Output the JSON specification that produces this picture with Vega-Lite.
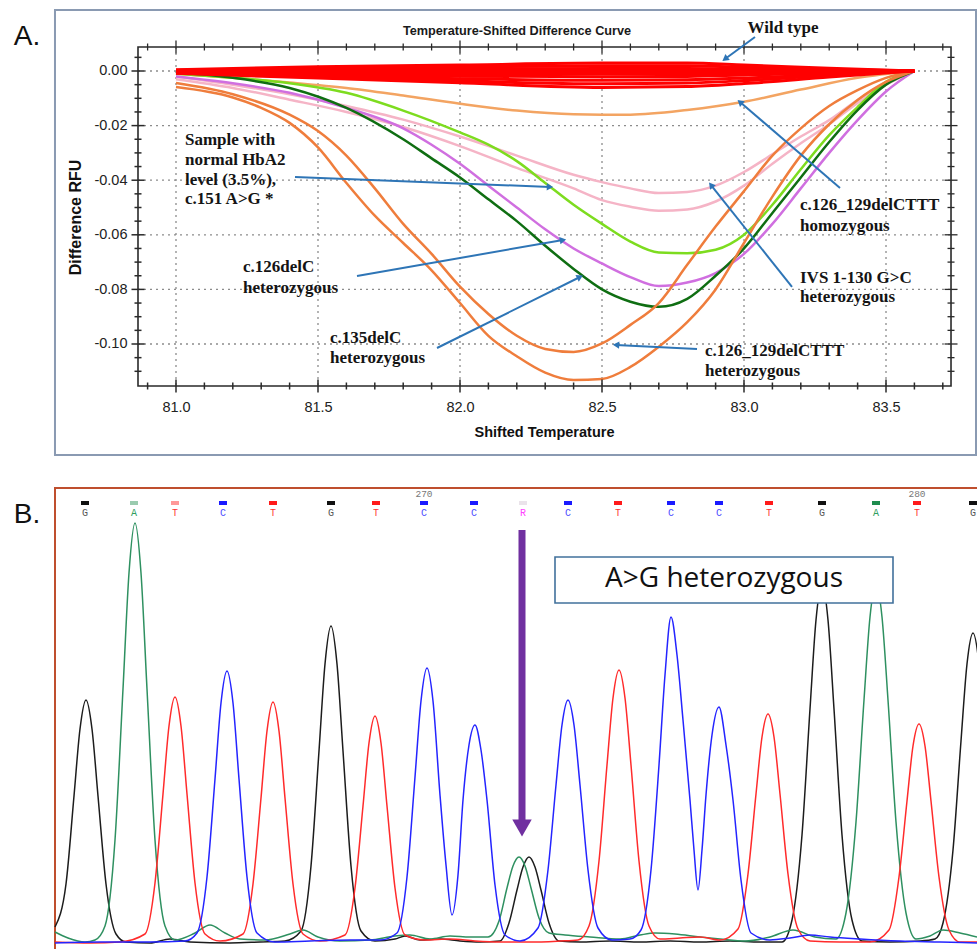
{
"$schema": "https://vega.github.io/schema/vega-lite/v6.json",
"width": 977, "height": 949, "autosize": "none", "padding": 0, "background": "white",
"config": {"view": {"stroke": null}, "font": "Liberation Sans"},
"datasets": {
"wt": [
{"s":"R1","t":81.0,"r":0.0005},{"s":"R1","t":81.5,"r":0.0016},{"s":"R1","t":82.0,"r":0.0022},{"s":"R1","t":82.5,"r":0.0029},{"s":"R1","t":82.8,"r":0.0029},{"s":"R1","t":83.0,"r":0.0022},{"s":"R1","t":83.3,"r":0.001},{"s":"R1","t":83.6,"r":0},
{"s":"R2","t":81.0,"r":0.0003},{"s":"R2","t":81.5,"r":0.001},{"s":"R2","t":82.0,"r":0.0015},{"s":"R2","t":82.5,"r":0.0019},{"s":"R2","t":82.8,"r":0.0019},{"s":"R2","t":83.0,"r":0.0014},{"s":"R2","t":83.3,"r":0.0006},{"s":"R2","t":83.6,"r":0},
{"s":"R3","t":81.0,"r":0.0001},{"s":"R3","t":81.5,"r":0.0004},{"s":"R3","t":82.0,"r":0.0007},{"s":"R3","t":82.5,"r":0.0009},{"s":"R3","t":82.8,"r":0.0009},{"s":"R3","t":83.0,"r":0.0006},{"s":"R3","t":83.3,"r":0.0003},{"s":"R3","t":83.6,"r":0},
{"s":"R4","t":81.0,"r":-0.0001},{"s":"R4","t":81.5,"r":-0.0002},{"s":"R4","t":82.0,"r":-0.0002},{"s":"R4","t":82.5,"r":-0.0002},{"s":"R4","t":82.8,"r":-0.0002},{"s":"R4","t":83.0,"r":-0.0001},{"s":"R4","t":83.3,"r":-0.0001},{"s":"R4","t":83.6,"r":0},
{"s":"R5","t":81.0,"r":-0.0003},{"s":"R5","t":81.5,"r":-0.0007},{"s":"R5","t":82.0,"r":-0.001},{"s":"R5","t":82.5,"r":-0.0011},{"s":"R5","t":82.8,"r":-0.001},{"s":"R5","t":83.0,"r":-0.0008},{"s":"R5","t":83.3,"r":-0.0004},{"s":"R5","t":83.6,"r":0},
{"s":"R6","t":81.0,"r":-0.0004},{"s":"R6","t":81.5,"r":-0.0012},{"s":"R6","t":82.0,"r":-0.0019},{"s":"R6","t":82.5,"r":-0.0021},{"s":"R6","t":82.8,"r":-0.002},{"s":"R6","t":83.0,"r":-0.0015},{"s":"R6","t":83.3,"r":-0.0007},{"s":"R6","t":83.6,"r":0},
{"s":"R7","t":81.0,"r":-0.0006},{"s":"R7","t":81.5,"r":-0.0017},{"s":"R7","t":82.0,"r":-0.0028},{"s":"R7","t":82.5,"r":-0.0034},{"s":"R7","t":82.8,"r":-0.0032},{"s":"R7","t":83.0,"r":-0.0026},{"s":"R7","t":83.3,"r":-0.0012},{"s":"R7","t":83.6,"r":0},
{"s":"R8","t":81.0,"r":-0.0007},{"s":"R8","t":81.5,"r":-0.0022},{"s":"R8","t":82.0,"r":-0.0036},{"s":"R8","t":82.5,"r":-0.0047},{"s":"R8","t":82.8,"r":-0.0044},{"s":"R8","t":83.0,"r":-0.0035},{"s":"R8","t":83.3,"r":-0.0016},{"s":"R8","t":83.6,"r":0},
{"s":"R9","t":81.0,"r":-0.0008},{"s":"R9","t":81.5,"r":-0.0026},{"s":"R9","t":82.0,"r":-0.0043},{"s":"R9","t":82.5,"r":-0.006},{"s":"R9","t":82.8,"r":-0.0057},{"s":"R9","t":83.0,"r":-0.0046},{"s":"R9","t":83.3,"r":-0.0022},{"s":"R9","t":83.6,"r":0}
],
"mut": [
{"s":"OH","t":81.0,"r":-0.001},{"s":"OH","t":81.2,"r":-0.0025},{"s":"OH","t":81.4,"r":-0.0042},{"s":"OH","t":81.6,"r":-0.0062},{"s":"OH","t":81.8,"r":-0.009},{"s":"OH","t":82.0,"r":-0.012},{"s":"OH","t":82.2,"r":-0.0145},{"s":"OH","t":82.4,"r":-0.0158},{"s":"OH","t":82.6,"r":-0.016},{"s":"OH","t":82.8,"r":-0.0143},{"s":"OH","t":83.0,"r":-0.0113},{"s":"OH","t":83.2,"r":-0.0068},{"s":"OH","t":83.4,"r":-0.0025},{"s":"OH","t":83.6,"r":0},
{"s":"P1","t":81.0,"r":-0.002},{"s":"P1","t":81.2,"r":-0.005},{"s":"P1","t":81.4,"r":-0.0085},{"s":"P1","t":81.6,"r":-0.0128},{"s":"P1","t":81.8,"r":-0.0178},{"s":"P1","t":82.0,"r":-0.024},{"s":"P1","t":82.2,"r":-0.031},{"s":"P1","t":82.4,"r":-0.038},{"s":"P1","t":82.5,"r":-0.0407},{"s":"P1","t":82.6,"r":-0.043},{"s":"P1","t":82.7,"r":-0.0447},{"s":"P1","t":82.8,"r":-0.0443},{"s":"P1","t":82.9,"r":-0.042},{"s":"P1","t":83.0,"r":-0.037},{"s":"P1","t":83.1,"r":-0.0305},{"s":"P1","t":83.2,"r":-0.024},{"s":"P1","t":83.3,"r":-0.018},{"s":"P1","t":83.4,"r":-0.0106},{"s":"P1","t":83.5,"r":-0.0045},{"s":"P1","t":83.6,"r":0},
{"s":"P2","t":81.0,"r":-0.003},{"s":"P2","t":81.2,"r":-0.0062},{"s":"P2","t":81.4,"r":-0.0105},{"s":"P2","t":81.6,"r":-0.015},{"s":"P2","t":81.8,"r":-0.0205},{"s":"P2","t":82.0,"r":-0.0275},{"s":"P2","t":82.2,"r":-0.0355},{"s":"P2","t":82.4,"r":-0.043},{"s":"P2","t":82.5,"r":-0.0473},{"s":"P2","t":82.6,"r":-0.0497},{"s":"P2","t":82.7,"r":-0.0512},{"s":"P2","t":82.8,"r":-0.0507},{"s":"P2","t":82.9,"r":-0.0478},{"s":"P2","t":83.0,"r":-0.042},{"s":"P2","t":83.1,"r":-0.034},{"s":"P2","t":83.2,"r":-0.0265},{"s":"P2","t":83.3,"r":-0.0195},{"s":"P2","t":83.4,"r":-0.0117},{"s":"P2","t":83.5,"r":-0.005},{"s":"P2","t":83.6,"r":0},
{"s":"LG","t":81.0,"r":-0.001},{"s":"LG","t":81.2,"r":-0.0025},{"s":"LG","t":81.4,"r":-0.0045},{"s":"LG","t":81.6,"r":-0.008},{"s":"LG","t":81.8,"r":-0.0145},{"s":"LG","t":82.0,"r":-0.0225},{"s":"LG","t":82.1,"r":-0.027},{"s":"LG","t":82.2,"r":-0.033},{"s":"LG","t":82.3,"r":-0.041},{"s":"LG","t":82.4,"r":-0.049},{"s":"LG","t":82.5,"r":-0.056},{"s":"LG","t":82.6,"r":-0.0625},{"s":"LG","t":82.7,"r":-0.0665},{"s":"LG","t":82.8,"r":-0.0668},{"s":"LG","t":82.9,"r":-0.0655},{"s":"LG","t":83.0,"r":-0.06},{"s":"LG","t":83.1,"r":-0.049},{"s":"LG","t":83.2,"r":-0.036},{"s":"LG","t":83.3,"r":-0.0235},{"s":"LG","t":83.4,"r":-0.0132},{"s":"LG","t":83.5,"r":-0.004},{"s":"LG","t":83.6,"r":0},
{"s":"MG","t":81.0,"r":-0.002},{"s":"MG","t":81.2,"r":-0.0045},{"s":"MG","t":81.4,"r":-0.008},{"s":"MG","t":81.6,"r":-0.0135},{"s":"MG","t":81.8,"r":-0.021},{"s":"MG","t":81.9,"r":-0.027},{"s":"MG","t":82.0,"r":-0.034},{"s":"MG","t":82.1,"r":-0.042},{"s":"MG","t":82.2,"r":-0.05},{"s":"MG","t":82.3,"r":-0.058},{"s":"MG","t":82.4,"r":-0.065},{"s":"MG","t":82.5,"r":-0.0705},{"s":"MG","t":82.6,"r":-0.0755},{"s":"MG","t":82.7,"r":-0.0788},{"s":"MG","t":82.8,"r":-0.0775},{"s":"MG","t":82.9,"r":-0.074},{"s":"MG","t":83.0,"r":-0.067},{"s":"MG","t":83.1,"r":-0.056},{"s":"MG","t":83.2,"r":-0.043},{"s":"MG","t":83.3,"r":-0.03},{"s":"MG","t":83.4,"r":-0.018},{"s":"MG","t":83.5,"r":-0.0075},{"s":"MG","t":83.6,"r":0},
{"s":"DG","t":81.0,"r":-0.0005},{"s":"DG","t":81.2,"r":-0.0025},{"s":"DG","t":81.4,"r":-0.0062},{"s":"DG","t":81.6,"r":-0.0135},{"s":"DG","t":81.8,"r":-0.025},{"s":"DG","t":81.9,"r":-0.032},{"s":"DG","t":82.0,"r":-0.039},{"s":"DG","t":82.1,"r":-0.047},{"s":"DG","t":82.2,"r":-0.055},{"s":"DG","t":82.3,"r":-0.064},{"s":"DG","t":82.4,"r":-0.0725},{"s":"DG","t":82.5,"r":-0.08},{"s":"DG","t":82.6,"r":-0.0845},{"s":"DG","t":82.7,"r":-0.0864},{"s":"DG","t":82.8,"r":-0.0835},{"s":"DG","t":82.9,"r":-0.075},{"s":"DG","t":83.0,"r":-0.065},{"s":"DG","t":83.1,"r":-0.052},{"s":"DG","t":83.2,"r":-0.039},{"s":"DG","t":83.3,"r":-0.026},{"s":"DG","t":83.4,"r":-0.0143},{"s":"DG","t":83.5,"r":-0.005},{"s":"DG","t":83.6,"r":0},
{"s":"O1","t":81.0,"r":-0.0044},{"s":"O1","t":81.2,"r":-0.0085},{"s":"O1","t":81.4,"r":-0.016},{"s":"O1","t":81.5,"r":-0.022},{"s":"O1","t":81.6,"r":-0.031},{"s":"O1","t":81.7,"r":-0.043},{"s":"O1","t":81.8,"r":-0.056},{"s":"O1","t":81.9,"r":-0.067},{"s":"O1","t":82.0,"r":-0.079},{"s":"O1","t":82.1,"r":-0.089},{"s":"O1","t":82.2,"r":-0.097},{"s":"O1","t":82.3,"r":-0.1018},{"s":"O1","t":82.4,"r":-0.1029},{"s":"O1","t":82.5,"r":-0.0998},{"s":"O1","t":82.6,"r":-0.093},{"s":"O1","t":82.7,"r":-0.085},{"s":"O1","t":82.8,"r":-0.071},{"s":"O1","t":82.9,"r":-0.057},{"s":"O1","t":83.0,"r":-0.044},{"s":"O1","t":83.1,"r":-0.031},{"s":"O1","t":83.2,"r":-0.021},{"s":"O1","t":83.3,"r":-0.0128},{"s":"O1","t":83.4,"r":-0.007},{"s":"O1","t":83.5,"r":-0.0025},{"s":"O1","t":83.6,"r":0},
{"s":"O2","t":81.0,"r":-0.0059},{"s":"O2","t":81.2,"r":-0.0097},{"s":"O2","t":81.3,"r":-0.0135},{"s":"O2","t":81.4,"r":-0.019},{"s":"O2","t":81.5,"r":-0.028},{"s":"O2","t":81.6,"r":-0.041},{"s":"O2","t":81.7,"r":-0.053},{"s":"O2","t":81.8,"r":-0.063},{"s":"O2","t":81.9,"r":-0.073},{"s":"O2","t":82.0,"r":-0.085},{"s":"O2","t":82.1,"r":-0.097},{"s":"O2","t":82.2,"r":-0.1045},{"s":"O2","t":82.3,"r":-0.1105},{"s":"O2","t":82.4,"r":-0.1132},{"s":"O2","t":82.5,"r":-0.1128},{"s":"O2","t":82.6,"r":-0.1084},{"s":"O2","t":82.7,"r":-0.101},{"s":"O2","t":82.8,"r":-0.092},{"s":"O2","t":82.9,"r":-0.08},{"s":"O2","t":83.0,"r":-0.063},{"s":"O2","t":83.1,"r":-0.046},{"s":"O2","t":83.2,"r":-0.031},{"s":"O2","t":83.3,"r":-0.0195},{"s":"O2","t":83.4,"r":-0.0106},{"s":"O2","t":83.5,"r":-0.004},{"s":"O2","t":83.6,"r":0}
],
"xgrid": [{"v":81.0},{"v":81.5},{"v":82.0},{"v":82.5},{"v":83.0},{"v":83.5}],
"ygrid": [{"v":0},{"v":-0.02},{"v":-0.04},{"v":-0.06},{"v":-0.08},{"v":-0.1}],
"xticks": [{"v":80.9,"k":"minor"},{"v":81.0,"k":"major"},{"v":81.1,"k":"minor"},{"v":81.2,"k":"minor"},{"v":81.3,"k":"minor"},{"v":81.4,"k":"minor"},{"v":81.5,"k":"major"},{"v":81.6,"k":"minor"},{"v":81.7,"k":"minor"},{"v":81.8,"k":"minor"},{"v":81.9,"k":"minor"},{"v":82.0,"k":"major"},{"v":82.1,"k":"minor"},{"v":82.2,"k":"minor"},{"v":82.3,"k":"minor"},{"v":82.4,"k":"minor"},{"v":82.5,"k":"major"},{"v":82.6,"k":"minor"},{"v":82.7,"k":"minor"},{"v":82.8,"k":"minor"},{"v":82.9,"k":"minor"},{"v":83.0,"k":"major"},{"v":83.1,"k":"minor"},{"v":83.2,"k":"minor"},{"v":83.3,"k":"minor"},{"v":83.4,"k":"minor"},{"v":83.5,"k":"major"},{"v":83.6,"k":"minor"},{"v":83.7,"k":"minor"}],
"yticks": [{"v":0.005,"k":"minor"},{"v":0,"k":"major"},{"v":-0.005,"k":"minor"},{"v":-0.01,"k":"minor"},{"v":-0.015,"k":"minor"},{"v":-0.02,"k":"major"},{"v":-0.025,"k":"minor"},{"v":-0.03,"k":"minor"},{"v":-0.035,"k":"minor"},{"v":-0.04,"k":"major"},{"v":-0.045,"k":"minor"},{"v":-0.05,"k":"minor"},{"v":-0.055,"k":"minor"},{"v":-0.06,"k":"major"},{"v":-0.065,"k":"minor"},{"v":-0.07,"k":"minor"},{"v":-0.075,"k":"minor"},{"v":-0.08,"k":"major"},{"v":-0.085,"k":"minor"},{"v":-0.09,"k":"minor"},{"v":-0.095,"k":"minor"},{"v":-0.1,"k":"major"},{"v":-0.105,"k":"minor"},{"v":-0.11,"k":"minor"}],
"arrows": [
{"id":"wt","t1":83.0387,"r1":0.01245,"t2":82.9331,"r2":0.0044},
{"id":"c151","t1":81.419,"r1":-0.03883,"t2":82.3169,"r2":-0.04249},
{"id":"d126","t1":81.6373,"r1":-0.07509,"t2":82.3627,"r2":-0.0619},
{"id":"d135","t1":81.919,"r1":-0.10147,"t2":82.4225,"r2":-0.07546},
{"id":"het","t1":82.8345,"r1":-0.10183,"t2":82.5493,"r2":-0.10037},
{"id":"ivs","t1":83.169,"r1":-0.07912,"t2":82.8838,"r2":-0.04176},
{"id":"homo","t1":83.338,"r1":-0.04286,"t2":82.9859,"r2":-0.01136}
],
"notes": [
{"txt":"Wild type","t":83.0123,"r":0.01575},
{"txt":"Sample with","t":81.0317,"r":-0.02527},
{"txt":"normal HbA2","t":81.0317,"r":-0.0326},
{"txt":"level (3.5%),","t":81.0317,"r":-0.03993},
{"txt":"c.151 A>G *","t":81.0317,"r":-0.04689},
{"txt":"c.126delC","t":81.2359,"r":-0.07179},
{"txt":"heterozygous","t":81.2359,"r":-0.07949},
{"txt":"c.135delC","t":81.5423,"r":-0.0978},
{"txt":"heterozygous","t":81.5423,"r":-0.10513},
{"txt":"c.126_129delCTTT","t":82.8627,"r":-0.10256},
{"txt":"heterozygous","t":82.8627,"r":-0.10989},
{"txt":"IVS 1-130 G>C","t":83.1972,"r":-0.07582},
{"txt":"heterozygous","t":83.1972,"r":-0.08278},
{"txt":"c.126_129delCTTT","t":83.1972,"r":-0.04908},
{"txt":"homozygous","t":83.1972,"r":-0.05678}
],
"trace": [
{"ch":"G","scan":55,"sig":18},{"ch":"G","scan":66,"sig":61},{"ch":"G","scan":74,"sig":149},{"ch":"G","scan":80,"sig":216},{"ch":"G","scan":86,"sig":245},{"ch":"G","scan":92,"sig":216},{"ch":"G","scan":98,"sig":149},{"ch":"G","scan":106,"sig":61},{"ch":"G","scan":116,"sig":11},{"ch":"G","scan":126,"sig":3},{"ch":"G","scan":150,"sig":2},{"ch":"G","scan":170,"sig":6},{"ch":"G","scan":190,"sig":3},{"ch":"G","scan":230,"sig":2},{"ch":"G","scan":260,"sig":3},{"ch":"G","scan":285,"sig":4},{"ch":"G","scan":301,"sig":14},{"ch":"G","scan":311,"sig":79},{"ch":"G","scan":319,"sig":194},{"ch":"G","scan":325,"sig":281},{"ch":"G","scan":331,"sig":319},{"ch":"G","scan":337,"sig":281},{"ch":"G","scan":343,"sig":194},{"ch":"G","scan":351,"sig":79},{"ch":"G","scan":361,"sig":14},{"ch":"G","scan":375,"sig":4},{"ch":"G","scan":395,"sig":6},{"ch":"G","scan":405,"sig":9},{"ch":"G","scan":420,"sig":5},{"ch":"G","scan":440,"sig":6},{"ch":"G","scan":460,"sig":4},{"ch":"G","scan":480,"sig":3},{"ch":"G","scan":500,"sig":4},{"ch":"G","scan":509,"sig":22},{"ch":"G","scan":517,"sig":55},{"ch":"G","scan":523,"sig":78},{"ch":"G","scan":529,"sig":88},{"ch":"G","scan":535,"sig":78},{"ch":"G","scan":541,"sig":55},{"ch":"G","scan":549,"sig":22},{"ch":"G","scan":559,"sig":4},{"ch":"G","scan":580,"sig":3},{"ch":"G","scan":610,"sig":4},{"ch":"G","scan":640,"sig":3},{"ch":"G","scan":670,"sig":4},{"ch":"G","scan":700,"sig":3},{"ch":"G","scan":730,"sig":4},{"ch":"G","scan":760,"sig":3},{"ch":"G","scan":782,"sig":3},{"ch":"G","scan":792,"sig":25},{"ch":"G","scan":802,"sig":110},{"ch":"G","scan":810,"sig":236},{"ch":"G","scan":816,"sig":325},{"ch":"G","scan":822,"sig":361},{"ch":"G","scan":828,"sig":325},{"ch":"G","scan":834,"sig":236},{"ch":"G","scan":842,"sig":110},{"ch":"G","scan":852,"sig":25},{"ch":"G","scan":862,"sig":4},{"ch":"G","scan":890,"sig":3},{"ch":"G","scan":920,"sig":4},{"ch":"G","scan":935,"sig":6},{"ch":"G","scan":943,"sig":22},{"ch":"G","scan":953,"sig":95},{"ch":"G","scan":961,"sig":204},{"ch":"G","scan":967,"sig":281},{"ch":"G","scan":973,"sig":312},{"ch":"G","scan":979,"sig":281},{"ch":"G","scan":985,"sig":204},
{"ch":"A","scan":55,"sig":13},{"ch":"A","scan":68,"sig":7},{"ch":"A","scan":85,"sig":3},{"ch":"A","scan":95,"sig":5},{"ch":"A","scan":105,"sig":19},{"ch":"A","scan":115,"sig":105},{"ch":"A","scan":123,"sig":256},{"ch":"A","scan":129,"sig":372},{"ch":"A","scan":135,"sig":422},{"ch":"A","scan":141,"sig":372},{"ch":"A","scan":147,"sig":256},{"ch":"A","scan":155,"sig":105},{"ch":"A","scan":165,"sig":19},{"ch":"A","scan":175,"sig":5},{"ch":"A","scan":195,"sig":12},{"ch":"A","scan":210,"sig":20},{"ch":"A","scan":225,"sig":12},{"ch":"A","scan":240,"sig":6},{"ch":"A","scan":265,"sig":5},{"ch":"A","scan":290,"sig":11},{"ch":"A","scan":303,"sig":15},{"ch":"A","scan":318,"sig":8},{"ch":"A","scan":340,"sig":4},{"ch":"A","scan":370,"sig":5},{"ch":"A","scan":395,"sig":9},{"ch":"A","scan":410,"sig":10},{"ch":"A","scan":430,"sig":6},{"ch":"A","scan":450,"sig":9},{"ch":"A","scan":470,"sig":8},{"ch":"A","scan":488,"sig":8},{"ch":"A","scan":499,"sig":24},{"ch":"A","scan":507,"sig":57},{"ch":"A","scan":513,"sig":79},{"ch":"A","scan":519,"sig":88},{"ch":"A","scan":525,"sig":79},{"ch":"A","scan":531,"sig":57},{"ch":"A","scan":539,"sig":27},{"ch":"A","scan":549,"sig":12},{"ch":"A","scan":565,"sig":10},{"ch":"A","scan":590,"sig":8},{"ch":"A","scan":620,"sig":6},{"ch":"A","scan":640,"sig":10},{"ch":"A","scan":655,"sig":12},{"ch":"A","scan":675,"sig":11},{"ch":"A","scan":700,"sig":8},{"ch":"A","scan":720,"sig":6},{"ch":"A","scan":745,"sig":4},{"ch":"A","scan":770,"sig":8},{"ch":"A","scan":793,"sig":15},{"ch":"A","scan":815,"sig":8},{"ch":"A","scan":836,"sig":6},{"ch":"A","scan":846,"sig":32},{"ch":"A","scan":856,"sig":123},{"ch":"A","scan":864,"sig":245},{"ch":"A","scan":870,"sig":328},{"ch":"A","scan":876,"sig":362},{"ch":"A","scan":882,"sig":328},{"ch":"A","scan":888,"sig":245},{"ch":"A","scan":896,"sig":123},{"ch":"A","scan":906,"sig":32},{"ch":"A","scan":916,"sig":6},{"ch":"A","scan":930,"sig":9},{"ch":"A","scan":943,"sig":15},{"ch":"A","scan":960,"sig":12},{"ch":"A","scan":977,"sig":8},
{"ch":"T","scan":55,"sig":3},{"ch":"T","scan":90,"sig":2},{"ch":"T","scan":120,"sig":3},{"ch":"T","scan":145,"sig":11},{"ch":"T","scan":155,"sig":62},{"ch":"T","scan":163,"sig":151},{"ch":"T","scan":169,"sig":219},{"ch":"T","scan":175,"sig":248},{"ch":"T","scan":181,"sig":219},{"ch":"T","scan":187,"sig":151},{"ch":"T","scan":195,"sig":62},{"ch":"T","scan":205,"sig":11},{"ch":"T","scan":220,"sig":4},{"ch":"T","scan":243,"sig":11},{"ch":"T","scan":253,"sig":61},{"ch":"T","scan":261,"sig":147},{"ch":"T","scan":267,"sig":214},{"ch":"T","scan":273,"sig":243},{"ch":"T","scan":279,"sig":214},{"ch":"T","scan":285,"sig":147},{"ch":"T","scan":293,"sig":61},{"ch":"T","scan":303,"sig":11},{"ch":"T","scan":320,"sig":4},{"ch":"T","scan":345,"sig":10},{"ch":"T","scan":355,"sig":57},{"ch":"T","scan":363,"sig":139},{"ch":"T","scan":369,"sig":202},{"ch":"T","scan":375,"sig":229},{"ch":"T","scan":381,"sig":202},{"ch":"T","scan":387,"sig":139},{"ch":"T","scan":395,"sig":57},{"ch":"T","scan":405,"sig":10},{"ch":"T","scan":425,"sig":5},{"ch":"T","scan":450,"sig":6},{"ch":"T","scan":475,"sig":4},{"ch":"T","scan":500,"sig":3},{"ch":"T","scan":530,"sig":3},{"ch":"T","scan":560,"sig":4},{"ch":"T","scan":578,"sig":5},{"ch":"T","scan":589,"sig":19},{"ch":"T","scan":599,"sig":84},{"ch":"T","scan":607,"sig":180},{"ch":"T","scan":613,"sig":247},{"ch":"T","scan":619,"sig":275},{"ch":"T","scan":625,"sig":247},{"ch":"T","scan":631,"sig":180},{"ch":"T","scan":639,"sig":84},{"ch":"T","scan":649,"sig":19},{"ch":"T","scan":660,"sig":6},{"ch":"T","scan":680,"sig":7},{"ch":"T","scan":700,"sig":8},{"ch":"T","scan":720,"sig":5},{"ch":"T","scan":738,"sig":16},{"ch":"T","scan":748,"sig":71},{"ch":"T","scan":756,"sig":151},{"ch":"T","scan":762,"sig":208},{"ch":"T","scan":768,"sig":231},{"ch":"T","scan":774,"sig":208},{"ch":"T","scan":780,"sig":151},{"ch":"T","scan":788,"sig":71},{"ch":"T","scan":798,"sig":16},{"ch":"T","scan":810,"sig":4},{"ch":"T","scan":840,"sig":3},{"ch":"T","scan":870,"sig":3},{"ch":"T","scan":889,"sig":15},{"ch":"T","scan":899,"sig":68},{"ch":"T","scan":907,"sig":144},{"ch":"T","scan":913,"sig":199},{"ch":"T","scan":919,"sig":221},{"ch":"T","scan":925,"sig":199},{"ch":"T","scan":931,"sig":144},{"ch":"T","scan":939,"sig":68},{"ch":"T","scan":949,"sig":15},{"ch":"T","scan":960,"sig":3},{"ch":"T","scan":977,"sig":3},
{"ch":"C","scan":55,"sig":2},{"ch":"C","scan":100,"sig":3},{"ch":"C","scan":150,"sig":3},{"ch":"C","scan":185,"sig":4},{"ch":"C","scan":197,"sig":12},{"ch":"C","scan":207,"sig":68},{"ch":"C","scan":215,"sig":166},{"ch":"C","scan":221,"sig":242},{"ch":"C","scan":227,"sig":274},{"ch":"C","scan":233,"sig":242},{"ch":"C","scan":239,"sig":166},{"ch":"C","scan":247,"sig":68},{"ch":"C","scan":257,"sig":12},{"ch":"C","scan":275,"sig":3},{"ch":"C","scan":310,"sig":4},{"ch":"C","scan":350,"sig":5},{"ch":"C","scan":380,"sig":5},{"ch":"C","scan":397,"sig":12},{"ch":"C","scan":407,"sig":68},{"ch":"C","scan":415,"sig":168},{"ch":"C","scan":421,"sig":244},{"ch":"C","scan":427,"sig":277},{"ch":"C","scan":433,"sig":244},{"ch":"C","scan":440,"sig":150},{"ch":"C","scan":446,"sig":80},{"ch":"C","scan":452,"sig":30},{"ch":"C","scan":458,"sig":70},{"ch":"C","scan":463,"sig":145},{"ch":"C","scan":469,"sig":200},{"ch":"C","scan":475,"sig":220},{"ch":"C","scan":481,"sig":195},{"ch":"C","scan":487,"sig":145},{"ch":"C","scan":495,"sig":60},{"ch":"C","scan":505,"sig":10},{"ch":"C","scan":520,"sig":4},{"ch":"C","scan":538,"sig":17},{"ch":"C","scan":548,"sig":75},{"ch":"C","scan":556,"sig":160},{"ch":"C","scan":562,"sig":220},{"ch":"C","scan":568,"sig":245},{"ch":"C","scan":574,"sig":220},{"ch":"C","scan":580,"sig":160},{"ch":"C","scan":588,"sig":75},{"ch":"C","scan":598,"sig":17},{"ch":"C","scan":612,"sig":5},{"ch":"C","scan":630,"sig":6},{"ch":"C","scan":641,"sig":15},{"ch":"C","scan":651,"sig":75},{"ch":"C","scan":659,"sig":180},{"ch":"C","scan":665,"sig":270},{"ch":"C","scan":671,"sig":328},{"ch":"C","scan":677,"sig":290},{"ch":"C","scan":683,"sig":225},{"ch":"C","scan":690,"sig":145},{"ch":"C","scan":694,"sig":95},{"ch":"C","scan":698,"sig":55},{"ch":"C","scan":702,"sig":95},{"ch":"C","scan":706,"sig":150},{"ch":"C","scan":712,"sig":210},{"ch":"C","scan":719,"sig":238},{"ch":"C","scan":726,"sig":200},{"ch":"C","scan":733,"sig":145},{"ch":"C","scan":741,"sig":65},{"ch":"C","scan":751,"sig":12},{"ch":"C","scan":770,"sig":5},{"ch":"C","scan":790,"sig":7},{"ch":"C","scan":810,"sig":10},{"ch":"C","scan":830,"sig":8},{"ch":"C","scan":860,"sig":6},{"ch":"C","scan":900,"sig":4},{"ch":"C","scan":940,"sig":3},{"ch":"C","scan":977,"sig":2}
],
"calls": [
{"scan":85,"call":"G","qv":40},{"scan":134,"call":"A","qv":12},{"scan":175,"call":"T","qv":12},{"scan":223,"call":"C","qv":40},{"scan":273,"call":"T","qv":40},{"scan":331,"call":"G","qv":40},{"scan":376,"call":"T","qv":40},{"scan":424,"call":"C","qv":40},{"scan":474,"call":"C","qv":40},{"scan":523,"call":"R","qv":12},{"scan":568,"call":"C","qv":40},{"scan":618,"call":"T","qv":40},{"scan":671,"call":"C","qv":40},{"scan":719,"call":"C","qv":40},{"scan":769,"call":"T","qv":40},{"scan":822,"call":"G","qv":40},{"scan":876,"call":"A","qv":40},{"scan":917,"call":"T","qv":40},{"scan":973,"call":"G","qv":40}
],
"pos": [{"scan":424,"lab":"270"},{"scan":917,"lab":"280"}]
},
"layer": [
{
"layer": [
{"data": {"values": [{}]},
 "mark": {"type": "rect", "fill": null, "stroke": "#8a9ab2", "strokeWidth": 2},
 "encoding": {
  "x": {"datum": 80.5739, "type": "quantitative", "scale": {"domain": [80.3803, 83.8204], "nice": false, "zero": false},
   "axis": {"orient": "bottom", "offset": -563, "values": [81, 81.5, 82, 82.5, 83, 83.5], "format": ".1f", "domain": false, "ticks": false, "tickSize": 0, "grid": false,
    "labelFont": "Liberation Sans", "labelFontSize": 14.5, "labelColor": "#222", "labelPadding": 14, "labelFlush": false, "labelOverlap": false,
    "title": "Shifted Temperature", "titleFont": "Liberation Sans", "titleFontSize": 14.5, "titleFontWeight": "bold", "titleColor": "#111",
    "titleX": 544, "titleY": 46, "titleAlign": "center", "titleBaseline": "middle", "titleAnchor": null}},
  "x2": {"datum": 83.8169},
  "y": {"datum": 0.022344, "type": "quantitative", "scale": {"domain": [-0.321612, 0.026007], "nice": false, "zero": false},
   "axis": {"orient": "left", "offset": -138, "values": [0, -0.02, -0.04, -0.06, -0.08, -0.1], "labelExpr": "datum.value < 0 ? '-' + format(-datum.value, '.2f') : format(datum.value, '.2f')", "domain": false, "ticks": false, "tickSize": 0, "grid": false,
    "labelFont": "Liberation Sans", "labelFontSize": 14.5, "labelColor": "#222", "labelPadding": 11, "labelFlush": false, "labelOverlap": false,
    "title": "Difference RFU", "titleFont": "Liberation Sans", "titleFontSize": 16, "titleFontWeight": "bold", "titleColor": "#111",
    "titleX": -63, "titleY": 217, "titleAngle": -90, "titleAlign": "center", "titleBaseline": "middle", "titleAnchor": null}},
  "y2": {"datum": -0.140659}}},
{"data": {"name": "xgrid"},
 "mark": {"type": "rule", "stroke": "#8c8c8c", "strokeWidth": 1.3, "strokeDash": [2, 4]},
 "encoding": {
  "x": {"field": "v", "type": "quantitative", "scale": {"domain": [80.3803, 83.8204], "nice": false, "zero": false}},
  "y": {"datum": 0.008791, "type": "quantitative", "scale": {"domain": [-0.321612, 0.026007], "nice": false, "zero": false}},
  "y2": {"datum": -0.115385}}},
{"data": {"name": "ygrid"},
 "mark": {"type": "rule", "stroke": "#8c8c8c", "strokeWidth": 1.3, "strokeDash": [2, 4]},
 "encoding": {
  "y": {"field": "v", "type": "quantitative", "scale": {"domain": [-0.321612, 0.026007], "nice": false, "zero": false}},
  "x": {"datum": 80.8662, "type": "quantitative", "scale": {"domain": [80.3803, 83.8204], "nice": false, "zero": false}},
  "x2": {"datum": 83.7289}}},
{"data": {"name": "mut"},
 "mark": {"type": "line", "strokeWidth": 2.5, "interpolate": "monotone"},
 "encoding": {
  "x": {"field": "t", "type": "quantitative", "scale": {"domain": [80.3803, 83.8204], "nice": false, "zero": false}},
  "y": {"field": "r", "type": "quantitative", "scale": {"domain": [-0.321612, 0.026007], "nice": false, "zero": false}},
  "color": {"field": "s", "type": "nominal", "legend": null,
   "scale": {"domain": ["OH","P1","P2","LG","MG","DG","O1","O2"], "range": ["#f3a462","#f5b4c6","#f5b4c6","#7ddc1f","#d06fe0","#0f6e12","#ef7d3c","#ef7d3c"]}}}},
{"data": {"name": "wt"},
 "mark": {"type": "line", "strokeWidth": 3, "interpolate": "monotone", "color": "#ff0000"},
 "encoding": {
  "x": {"field": "t", "type": "quantitative", "scale": {"domain": [80.3803, 83.8204], "nice": false, "zero": false}},
  "y": {"field": "r", "type": "quantitative", "scale": {"domain": [-0.321612, 0.026007], "nice": false, "zero": false}},
  "detail": {"field": "s", "type": "nominal"}}},
{"data": {"values": [{}]},
 "mark": {"type": "rect", "fill": null, "stroke": "#2a2a2a", "strokeWidth": 1.6},
 "encoding": {
  "x": {"datum": 80.8662, "type": "quantitative", "scale": {"domain": [80.3803, 83.8204], "nice": false, "zero": false}},
  "x2": {"datum": 83.7289},
  "y": {"datum": 0.008791, "type": "quantitative", "scale": {"domain": [-0.321612, 0.026007], "nice": false, "zero": false}},
  "y2": {"datum": -0.115385}}},
{"data": {"name": "xticks"},
 "mark": {"type": "tick", "orient": "vertical", "color": "#2a2a2a", "thickness": 1.5, "opacity": 1},
 "encoding": {
  "x": {"field": "v", "type": "quantitative", "scale": {"domain": [80.3803, 83.8204], "nice": false, "zero": false}},
  "y": {"datum": -0.115385, "type": "quantitative", "scale": {"domain": [-0.321612, 0.026007], "nice": false, "zero": false}},
  "size": {"field": "k", "type": "ordinal", "legend": null, "scale": {"type": "ordinal", "domain": ["major","minor"], "range": [13, 7]}}}},
{"data": {"name": "xticks"},
 "mark": {"type": "tick", "orient": "vertical", "color": "#2a2a2a", "thickness": 1.3, "opacity": 1},
 "encoding": {
  "x": {"field": "v", "type": "quantitative", "scale": {"domain": [80.3803, 83.8204], "nice": false, "zero": false}},
  "y": {"datum": 0.008791, "type": "quantitative", "scale": {"domain": [-0.321612, 0.026007], "nice": false, "zero": false}},
  "size": {"field": "k", "type": "ordinal", "legend": null, "scale": {"type": "ordinal", "domain": ["major","minor"], "range": [13, 7]}}}},
{"data": {"name": "yticks"},
 "mark": {"type": "tick", "orient": "horizontal", "color": "#2a2a2a", "thickness": 1.5, "opacity": 1},
 "encoding": {
  "y": {"field": "v", "type": "quantitative", "scale": {"domain": [-0.321612, 0.026007], "nice": false, "zero": false}},
  "x": {"datum": 80.8662, "type": "quantitative", "scale": {"domain": [80.3803, 83.8204], "nice": false, "zero": false}},
  "size": {"field": "k", "type": "ordinal", "legend": null, "scale": {"type": "ordinal", "domain": ["major","minor"], "range": [13, 7]}}}},
{"data": {"name": "yticks"},
 "mark": {"type": "tick", "orient": "horizontal", "color": "#2a2a2a", "thickness": 1.3, "opacity": 1},
 "encoding": {
  "y": {"field": "v", "type": "quantitative", "scale": {"domain": [-0.321612, 0.026007], "nice": false, "zero": false}},
  "x": {"datum": 83.7289, "type": "quantitative", "scale": {"domain": [80.3803, 83.8204], "nice": false, "zero": false}},
  "size": {"field": "k", "type": "ordinal", "legend": null, "scale": {"type": "ordinal", "domain": ["major","minor"], "range": [13, 7]}}}},
{"data": {"name": "arrows"},
 "mark": {"type": "rule", "stroke": "#2e75b6", "strokeWidth": 2},
 "encoding": {
  "x": {"field": "t1", "type": "quantitative", "scale": {"domain": [80.3803, 83.8204], "nice": false, "zero": false}},
  "y": {"field": "r1", "type": "quantitative", "scale": {"domain": [-0.321612, 0.026007], "nice": false, "zero": false}},
  "x2": {"field": "t2"}, "y2": {"field": "r2"}}},
{"data": {"name": "arrows"},
 "mark": {"type": "point", "shape": "triangle-up", "filled": true, "size": 55, "color": "#2e75b6", "opacity": 1},
 "encoding": {
  "x": {"field": "t2", "type": "quantitative", "scale": {"domain": [80.3803, 83.8204], "nice": false, "zero": false}},
  "y": {"field": "r2", "type": "quantitative", "scale": {"domain": [-0.321612, 0.026007], "nice": false, "zero": false}},
  "angle": {"field": "id", "type": "nominal", "legend": null, "scale": {"type": "ordinal", "domain": ["wt","c151","d126","d135","het","ivs","homo"], "range": [233.7, 92.2, 80.1, 63.6, 272.8, 321.5, 310.7]}}}},
{"data": {"name": "notes"},
 "mark": {"type": "text", "font": "Liberation Serif", "fontWeight": "bold", "fontSize": 17, "align": "left", "baseline": "middle", "color": "#141414"},
 "encoding": {
  "x": {"field": "t", "type": "quantitative", "scale": {"domain": [80.3803, 83.8204], "nice": false, "zero": false}},
  "y": {"field": "r", "type": "quantitative", "scale": {"domain": [-0.321612, 0.026007], "nice": false, "zero": false}},
  "text": {"field": "txt"}}},
{"data": {"values": [{}]},
 "mark": {"type": "text", "text": "Temperature-Shifted Difference Curve", "font": "Liberation Sans", "fontWeight": "bold", "fontSize": 12.7, "align": "center", "baseline": "middle", "color": "#1a1a1a"},
 "encoding": {
  "x": {"datum": 82.2007, "type": "quantitative", "scale": {"domain": [80.3803, 83.8204], "nice": false, "zero": false}},
  "y": {"datum": 0.01465, "type": "quantitative", "scale": {"domain": [-0.321612, 0.026007], "nice": false, "zero": false}}}},
{"data": {"values": [{}]},
 "mark": {"type": "text", "text": "A.", "font": "Liberation Sans", "fontSize": 28, "align": "center", "baseline": "middle", "color": "#111"},
 "encoding": {
  "x": {"datum": 80.4754, "type": "quantitative", "scale": {"domain": [80.3803, 83.8204], "nice": false, "zero": false}},
  "y": {"datum": 0.01245, "type": "quantitative", "scale": {"domain": [-0.321612, 0.026007], "nice": false, "zero": false}}}}
]
},
{
"resolve": {"scale": {"color": "independent", "opacity": "independent"}},
"layer": [
{"data": {"values": [{}]},
 "mark": {"type": "rect", "fill": null, "stroke": "#bf4f2e", "strokeWidth": 2, "clip": true},
 "encoding": {
  "x": {"datum": 55, "type": "quantitative", "scale": {"domain": [0, 977], "nice": false, "zero": false}, "axis": null},
  "x2": {"datum": 1000},
  "y": {"datum": 457, "type": "quantitative", "scale": {"domain": [-4, 945], "nice": false, "zero": false}, "axis": null},
  "y2": {"datum": -40}}},
{"data": {"name": "trace"},
 "mark": {"type": "line", "strokeWidth": 1.5, "interpolate": "monotone", "clip": true},
 "encoding": {
  "x": {"field": "scan", "type": "quantitative", "scale": {"domain": [0, 977], "nice": false, "zero": false}, "axis": null},
  "y": {"field": "sig", "type": "quantitative", "scale": {"domain": [-4, 945], "nice": false, "zero": false}, "axis": null},
  "color": {"field": "ch", "type": "nominal", "legend": null, "scale": {"domain": ["G","A","T","C"], "range": ["#1c1c1c","#2e9060","#ff2b2b","#2424ff"]}}}},
{"data": {"name": "calls"},
 "mark": {"type": "point", "shape": "M-1,-0.5H1V0.5H-1Z", "filled": true, "size": 64},
 "encoding": {
  "x": {"field": "scan", "type": "quantitative", "scale": {"domain": [0, 977], "nice": false, "zero": false}, "axis": null},
  "y": {"datum": 442, "type": "quantitative", "scale": {"domain": [-4, 945], "nice": false, "zero": false}, "axis": null},
  "color": {"field": "call", "type": "nominal", "legend": null, "scale": {"domain": ["G","A","T","C","R"], "range": ["#111111","#1e8c4e","#ff1a1a","#1a1aff","#d0c2d0"]}},
  "opacity": {"field": "qv", "type": "quantitative", "legend": null, "scale": {"domain": [12, 40], "range": [0.45, 1]}}}},
{"data": {"name": "calls"},
 "mark": {"type": "text", "font": "Liberation Mono", "fontSize": 10, "align": "center", "baseline": "middle"},
 "encoding": {
  "x": {"field": "scan", "type": "quantitative", "scale": {"domain": [0, 977], "nice": false, "zero": false}, "axis": null},
  "y": {"datum": 432, "type": "quantitative", "scale": {"domain": [-4, 945], "nice": false, "zero": false}, "axis": null},
  "text": {"field": "call"},
  "color": {"field": "call", "type": "nominal", "legend": null, "scale": {"domain": ["G","A","T","C","R"], "range": ["#555555","#2e9e5e","#ff3333","#4d4dff","#ff44ff"]}}}},
{"data": {"name": "pos"},
 "mark": {"type": "text", "font": "Liberation Mono", "fontSize": 9.5, "align": "center", "baseline": "middle", "color": "#777777"},
 "encoding": {
  "x": {"field": "scan", "type": "quantitative", "scale": {"domain": [0, 977], "nice": false, "zero": false}, "axis": null},
  "y": {"datum": 451, "type": "quantitative", "scale": {"domain": [-4, 945], "nice": false, "zero": false}, "axis": null},
  "text": {"field": "lab"}}},
{"data": {"values": [{}]},
 "mark": {"type": "rule", "stroke": "#7030a0", "strokeWidth": 7},
 "encoding": {
  "x": {"datum": 522, "type": "quantitative", "scale": {"domain": [0, 977], "nice": false, "zero": false}, "axis": null},
  "y": {"datum": 415, "type": "quantitative", "scale": {"domain": [-4, 945], "nice": false, "zero": false}, "axis": null},
  "y2": {"datum": 122}}},
{"data": {"values": [{}]},
 "mark": {"type": "point", "shape": "triangle-down", "filled": true, "size": 380, "color": "#7030a0", "opacity": 1},
 "encoding": {
  "x": {"datum": 522, "type": "quantitative", "scale": {"domain": [0, 977], "nice": false, "zero": false}, "axis": null},
  "y": {"datum": 117, "type": "quantitative", "scale": {"domain": [-4, 945], "nice": false, "zero": false}, "axis": null}}},
{"data": {"values": [{}]},
 "mark": {"type": "rect", "fill": "white", "stroke": "#41719c", "strokeWidth": 1.6},
 "encoding": {
  "x": {"datum": 555, "type": "quantitative", "scale": {"domain": [0, 977], "nice": false, "zero": false}, "axis": null},
  "x2": {"datum": 893},
  "y": {"datum": 388, "type": "quantitative", "scale": {"domain": [-4, 945], "nice": false, "zero": false}, "axis": null},
  "y2": {"datum": 342}}},
{"data": {"values": [{}]},
 "mark": {"type": "text", "text": "A>G heterozygous", "font": "Open Sans", "fontSize": 28, "align": "center", "baseline": "middle", "color": "#111"},
 "encoding": {
  "x": {"datum": 724, "type": "quantitative", "scale": {"domain": [0, 977], "nice": false, "zero": false}, "axis": null},
  "y": {"datum": 366, "type": "quantitative", "scale": {"domain": [-4, 945], "nice": false, "zero": false}, "axis": null}}},
{"data": {"values": [{}]},
 "mark": {"type": "text", "text": "B.", "font": "Liberation Sans", "fontSize": 28, "align": "center", "baseline": "middle", "color": "#111"},
 "encoding": {
  "x": {"datum": 27, "type": "quantitative", "scale": {"domain": [0, 977], "nice": false, "zero": false}, "axis": null},
  "y": {"datum": 430, "type": "quantitative", "scale": {"domain": [-4, 945], "nice": false, "zero": false}, "axis": null}}}
]
}
],
"resolve": {"scale": {"x": "independent", "y": "independent", "color": "independent", "size": "independent", "opacity": "independent", "angle": "independent"}, "axis": {"x": "independent", "y": "independent"}}
}
